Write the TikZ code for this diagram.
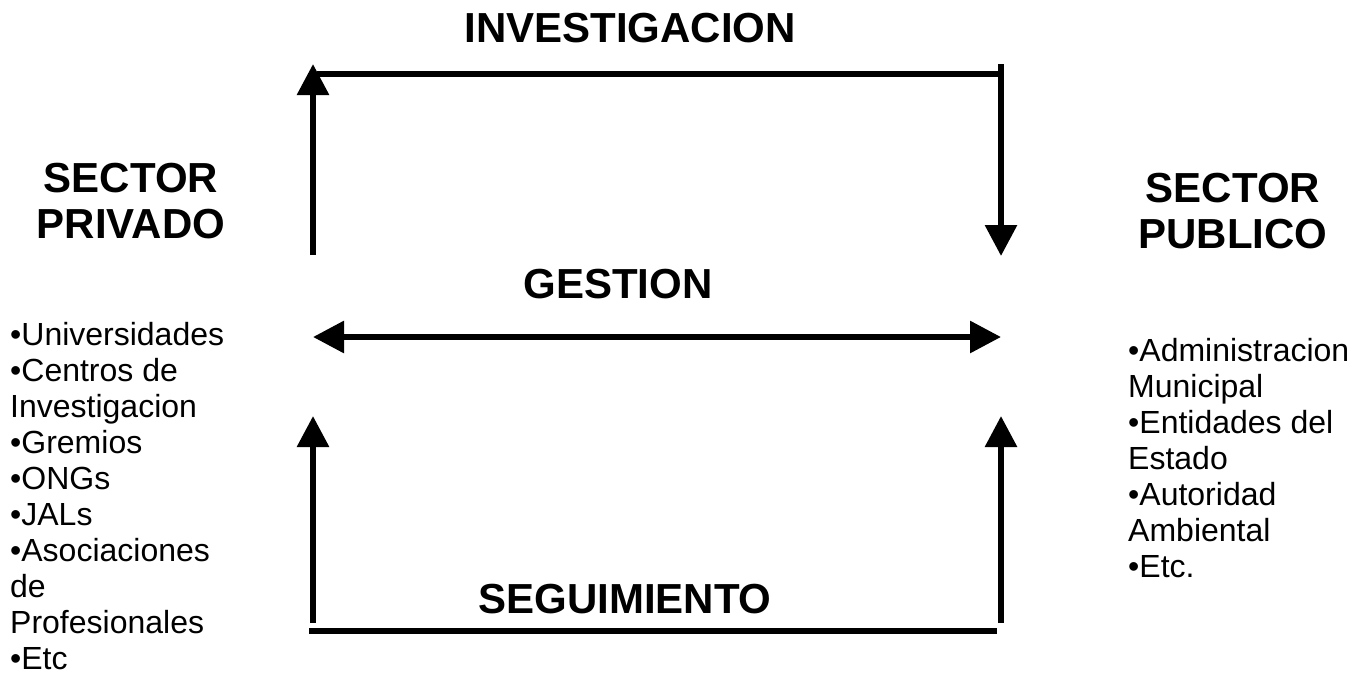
\documentclass[tikz,border=0pt]{standalone}
\usepackage{fontspec}
\setmainfont{Liberation Sans}
\usetikzlibrary{arrows.meta}
\begin{document}
\begin{tikzpicture}[x=1pt,y=-1pt,
  conn/.style={line width=6pt},
  arr/.style={conn,-{Triangle[length=31pt,width=31pt]}},
  darr/.style={conn,{Triangle[length=31pt,width=31pt]}-{Triangle[length=31pt,width=31pt]}},
  title/.style={font=\fontsize{42}{47}\selectfont\bfseries,inner sep=0pt,anchor=base},
  item/.style={font=\fontsize{32}{36}\selectfont,inner sep=0pt,anchor=base west}]
\path[use as bounding box,fill=white] (0,0) rectangle (1359,678);
% coordinates
\coordinate (tl) at (317,74);
\coordinate (tr) at (1001,74);
\coordinate (rtop) at (1001,64);
\coordinate (rtip) at (1001,256);
\coordinate (lbot) at (313,255);
\coordinate (ltip) at (313,64);
\coordinate (gl) at (313,337);
\coordinate (gr) at (1001,337);
\coordinate (bl1) at (313,623);
\coordinate (bl2) at (313,416);
\coordinate (br1) at (1001,623);
\coordinate (br2) at (1001,416);
\coordinate (hl) at (309,631);
\coordinate (hr) at (997,631);
% connectors
\draw[conn] (tl) -- (tr);
\draw[arr] (rtop) -- (rtip);
\draw[arr] (lbot) -- (ltip);
\draw[darr] (gl) -- (gr);
\draw[arr] (bl1) -- (bl2);
\draw[arr] (br1) -- (br2);
\draw[conn] (hl) -- (hr);
% titles
\node[title] (inv) at (630,42) {INVESTIGACION};
\node[title] (ges) at (618,298) {GESTION};
\node[title] (seg) at (625,613) {SEGUIMIENTO};
\node[title] (sp1) at (131,192) {SECTOR};
\node[title] (sp2) at (131,238) {PRIVADO};
\node[title] (su1) at (1233,202) {SECTOR};
\node[title] (su2) at (1233,248) {PUBLICO};
% left list
\foreach \t [count=\i from 0] in {{•Universidades},{•Centros de},{Investigacion},{•Gremios},{•ONGs},{•JALs},{•Asociaciones},{de},{Profesionales},{•Etc}}
  \node[item] (l\i) at (10,345+36*\i) {\t};
% right list
\foreach \t [count=\i from 0] in {{•Administracion},{Municipal},{•Entidades del},{Estado},{•Autoridad},{Ambiental},{•Etc.}}
  \node[item] (r\i) at (1128,361+36*\i) {\t};
\end{tikzpicture}
\end{document}
